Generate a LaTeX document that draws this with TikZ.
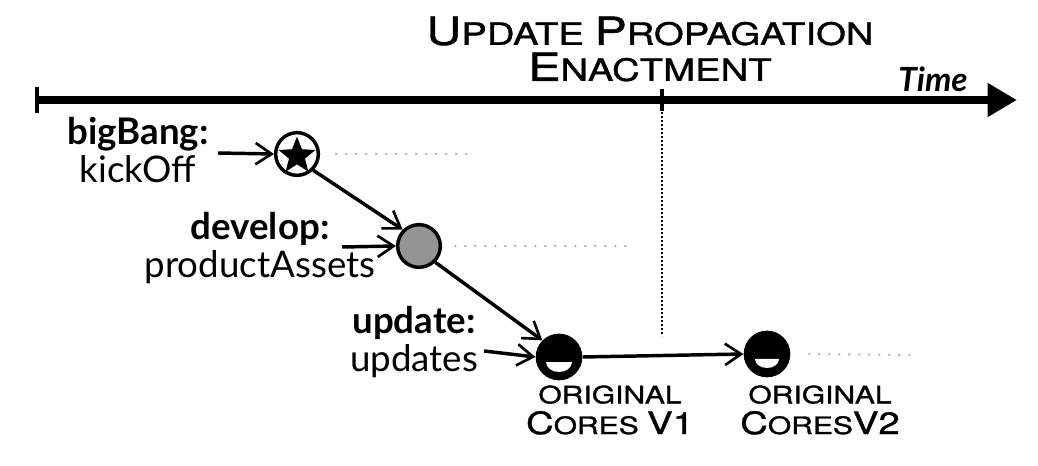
\documentclass[tikz,border=0pt]{standalone}
\usepackage{fontspec}
\setmainfont{Lato}
\newfontfamily\copperfont[FakeStretch=1.25,FakeBold=1.2]{TeX Gyre Heros}
\usetikzlibrary{arrows.meta,positioning,shapes.geometric}
% fake small caps: first letter set larger
\newcommand{\capL}[1]{{\fontsize{29}{34}\selectfont #1}}
\newcommand{\capS}[1]{{\fontsize{23}{34}\selectfont #1}}
\newcommand{\capN}[1]{{\fontsize{23}{27}\selectfont #1}}
\newcommand{\capM}[1]{{\fontsize{18}{27}\selectfont #1}}
\begin{document}
\begin{tikzpicture}[x=0.75pt,y=0.75pt,yscale=-1,xscale=1,
  event/.style={circle,draw=black,line width=2.6pt,minimum size=32pt,inner sep=0pt},
  core/.style={circle,fill=black,minimum size=35pt,inner sep=0pt},
  flow/.style={line width=2.6pt,-{Straight Barb[length=12pt,width=16pt,line width=2pt]}},
  trail/.style={draw=black!35,line width=1.8pt,line cap=round,dash pattern=on 0pt off 7.5pt},
  steplabel/.style={align=center,font=\fontsize{27.5}{29}\selectfont,inner sep=0pt},
  corelabel/.style={align=center,font=\copperfont\fontsize{18}{23}\selectfont,inner sep=0pt}]
\useasboundingbox (0,0) rectangle (1038,466);

%Timeline
\coordinate (tstart) at (35,100);
\coordinate (tend) at (1017,100);
\coordinate (tmark) at (662,100);
\draw [line width=6pt,{Bar[width=20pt,line width=3pt]}-{Triangle[length=22pt,width=24pt]}] (tstart) -- (tend) ;
\draw [line width=2.5pt] (662,89) -- (662,111) ;
%Dotted divider
\coordinate (divtop) at (662,112);
\coordinate (divbot) at (662,336);
\draw [line width=1pt,dash pattern=on 1.2pt off 1.8pt] (divtop) -- (divbot) ;

% Text Node
\node (title) at (650,49) [align=center,inner sep=0pt,font=\copperfont\fontsize{23}{27}\selectfont] {\capL{U}\capS{PDATE} \capL{P}\capS{ROPAGATION}\\\capL{E}\capS{NACTMENT}};
% Text Node
\node (time) at (933,79) [inner sep=0pt,font=\fontsize{25}{30}\selectfont\bfseries\itshape] {Time};

%Shape: Circle (bigBang)
\node (bang) [event,fill=white] at (297,154) {};
\node (star) [star,star points=5,star point ratio=2.3,fill=black,inner sep=0pt,minimum size=29pt] at (297,156) {};
%Shape: Circle (develop)
\node (dev) [event,fill=black!42] at (419,246) {};
%Shape: Circle (cores v1)
\node (core1) [core] at (559,357) {};
\fill [white] ([shift={(-13,5)}]core1.center) arc [start angle=180,end angle=0,x radius=13,y radius=10] -- cycle ;
%Shape: Circle (cores v2)
\node (core2) [core] at (767,354) {};
\fill [white] ([shift={(-12,5)}]core2.center) arc [start angle=180,end angle=0,x radius=12,y radius=9] -- cycle ;

% Text Node
\node (banglbl) [steplabel] at (138,150) {\textbf{bigBang:}\\kickOff};
\node (devlbl) [steplabel] at (260,248) {\textbf{develop:}\\productAssets};
\node (updlbl) [steplabel] at (414,342) {\textbf{update:}\\updates};
\node (c1lbl) [corelabel] at (610,410) {\capM{ORIGINAL}\\\capN{C}\capM{ORES} \capN{V1}};
\node (c2lbl) [corelabel] at (820,410) {\capM{ORIGINAL}\\\capN{C}\capM{ORES}\capN{V2}};

%Incoming arrows
\coordinate (bangin) at (218,153);
\coordinate (devin) at (342,247);
\coordinate (updin) at (484,351);
\draw [flow] (bangin) -- (bang.west) ;
\draw [flow] (devin) -- (dev.west) ;
\draw [flow] (updin) -- (core1.west) ;
%Connectors
\draw [flow] (bang.south east) -- (dev.north west) ;
\draw [flow] (dev.south east) -- (core1.north west) ;
\draw [flow] (core1.east) -- (core2.west) ;

%Trails
\coordinate (bangend) at (467,154);
\coordinate (devend) at (626,246);
\coordinate (core2end) at (912,355);
\draw [trail] ([xshift=12pt]bang.east) -- (bangend) ;
\draw [trail] ([xshift=10pt]dev.east) -- (devend) ;
\draw [trail] ([xshift=14pt]core2.east) -- (core2end) ;

\end{tikzpicture}
\end{document}
